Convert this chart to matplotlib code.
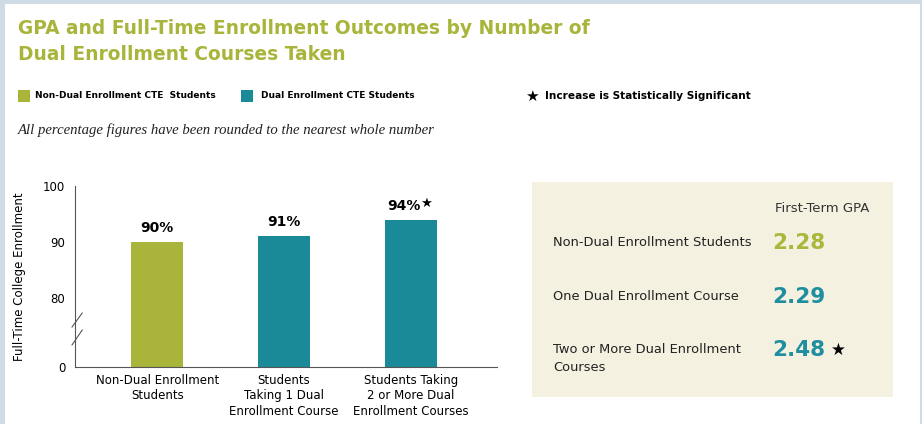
import numpy as np
import matplotlib
matplotlib.use('Agg')
import matplotlib.pyplot as plt
from matplotlib.patches import Rectangle
from matplotlib.lines import Line2D

# Дані
categories = ['Non-Dual Enrollment\nStudents',
              'Students\nTaking 1 Dual\nEnrollment Course',
              'Students Taking\n2 or More Dual\nEnrollment Courses']
enrollment = [90, 91, 94]
enroll_labels = ['90%', '91%', '94%']
significant = [False, False, True]
bar_colors = ['#a9b43a', '#1a8a98', '#1a8a98']

gpa_groups = ['Non-Dual Enrollment Students', 'One Dual Enrollment Course',
              'Two or More Dual Enrollment\nCourses']
gpa_values = [2.28, 2.29, 2.48]
gpa_colors = ['#a9b83a', '#1f8fa0', '#1f8fa0']
gpa_significant = [False, False, True]

y_ticks = [0, 80, 90, 100]

OLIVE = '#a9b43a'
TEAL = '#1a8a98'

plt.rcParams['font.family'] = ['DejaVu Sans']

fig = plt.figure(figsize=(9.22, 4.24), dpi=100)
fig.patch.set_facecolor('#cfdbe5')
fig.patches.append(Rectangle((5 / 922, 0), 915 / 922, 420 / 424,
                             transform=fig.transFigure, facecolor='white',
                             edgecolor='none', zorder=0))

# Заголовок
fig.text(18 / 922, 1 - 19 / 424,
         'GPA and Full-Time Enrollment Outcomes by Number of\nDual Enrollment Courses Taken',
         color='#a8b53a', fontsize=13.4, fontweight='bold', va='top',
         linespacing=1.45)

# Легенда
ly = 1 - 96 / 424
fig.patches.append(Rectangle((18 / 922, ly - 6 / 424), 12 / 922, 12 / 424,
                             transform=fig.transFigure, facecolor=OLIVE, edgecolor='none'))
fig.text(35 / 922, ly, 'Non-Dual Enrollment CTE  Students', fontsize=6.5,
         fontweight='bold', va='center')
fig.patches.append(Rectangle((241 / 922, ly - 6 / 424), 12 / 922, 12 / 424,
                             transform=fig.transFigure, facecolor=TEAL, edgecolor='none'))
fig.text(261 / 922, ly, 'Dual Enrollment CTE Students', fontsize=6.5,
         fontweight='bold', va='center')
fig.text(532 / 922, ly, '★', fontsize=11, va='center', ha='center')
fig.text(545 / 922, ly, 'Increase is Statistically Significant', fontsize=7.6,
         fontweight='bold', va='center')

fig.text(18 / 922, 1 - 130 / 424,
         'All percentage figures have been rounded to the nearest whole number',
         fontsize=10.6, style='italic', family=['Liberation Serif'], va='center',
         color='#222222')

# Стовпчаста діаграма з розривом осі
ax = fig.add_axes([75 / 922, 1 - 367 / 424, (497 - 75) / 922, (367 - 186) / 424])
ax.set_facecolor('none')
ax.set_zorder(5)

k = 12.3 / 80


def fwd(v):
    v = np.asarray(v, dtype=float)
    return np.where(v < 80, 80 - (80 - v) * k, v)


def inv(u):
    u = np.asarray(u, dtype=float)
    return np.where(u < 80, 80 - (80 - u) / k, u)


ax.set_yscale('function', functions=(fwd, inv))
x = np.arange(len(categories))
bars = ax.bar(x, enrollment, width=0.41, color=bar_colors)
ax.set_ylim(0, 100)
ax.set_xlim(-0.65, 2.68)
ax.set_yticks(y_ticks)
ax.set_yticklabels([str(t) for t in y_ticks])
ax.yaxis.set_minor_locator(matplotlib.ticker.NullLocator())
ax.tick_params(axis='y', length=0, pad=7, labelsize=8.5)
ax.tick_params(axis='x', length=0, pad=5, labelsize=8.5)
ax.set_xticks(x)
ax.set_xticklabels(categories, linespacing=1.25)
for s in ['top', 'right']:
    ax.spines[s].set_visible(False)
for s in ['left', 'bottom']:
    ax.spines[s].set_color('#555555')
    ax.spines[s].set_linewidth(0.8)
ax.set_ylabel('Full-Time College Enrollment', fontsize=8.5, labelpad=12)

for xi, v, lab, sig in zip(x, enrollment, enroll_labels, significant):
    dx = -5 if sig else 0
    ax.annotate(lab, (xi, v), xytext=(dx, 5), textcoords='offset points',
                ha='center', va='bottom', fontsize=10, fontweight='bold')
    if sig:
        ax.annotate('★', (xi, v), xytext=(11, 7), textcoords='offset points',
                    ha='center', va='bottom', fontsize=9.5)

# Позначка розриву осі
for y0, y1 in [(0.221, 0.298), (0.122, 0.204)]:
    ax.add_line(Line2D([-0.007, 0.017], [y0, y1], transform=ax.transAxes,
                       color='#555555', lw=0.8, clip_on=False))

# Панель GPA
fig.patches.append(Rectangle((532 / 922, 1 - 397 / 424), (893 - 532) / 922,
                             (397 - 182) / 424, transform=fig.transFigure,
                             facecolor='#f4f1e1', edgecolor='none'))
fig.text(822 / 922, 1 - 209 / 424, 'First-Term GPA', fontsize=9.5, ha='center',
         va='center', color='#333333')
rows_y = [243, 297, 350]
for ry, g, val, c, sig in zip(rows_y, gpa_groups, gpa_values, gpa_colors,
                              gpa_significant):
    if '\n' in g:
        fig.text(553 / 922, 1 - (ry - 7) / 424, g, fontsize=9.4, va='top',
                 color='#222222', linespacing=1.5)
    else:
        fig.text(553 / 922, 1 - ry / 424, g, fontsize=9.4, va='center',
                 color='#222222')
    fig.text(772 / 922, 1 - ry / 424, f'{val:.2f}', fontsize=15.5,
             fontweight='bold', va='center', color=c)
    if sig:
        fig.text(838 / 922, 1 - ry / 424, '★', fontsize=12, va='center',
                 ha='center')

fig.savefig('out.png', dpi=100, facecolor=fig.get_facecolor())
